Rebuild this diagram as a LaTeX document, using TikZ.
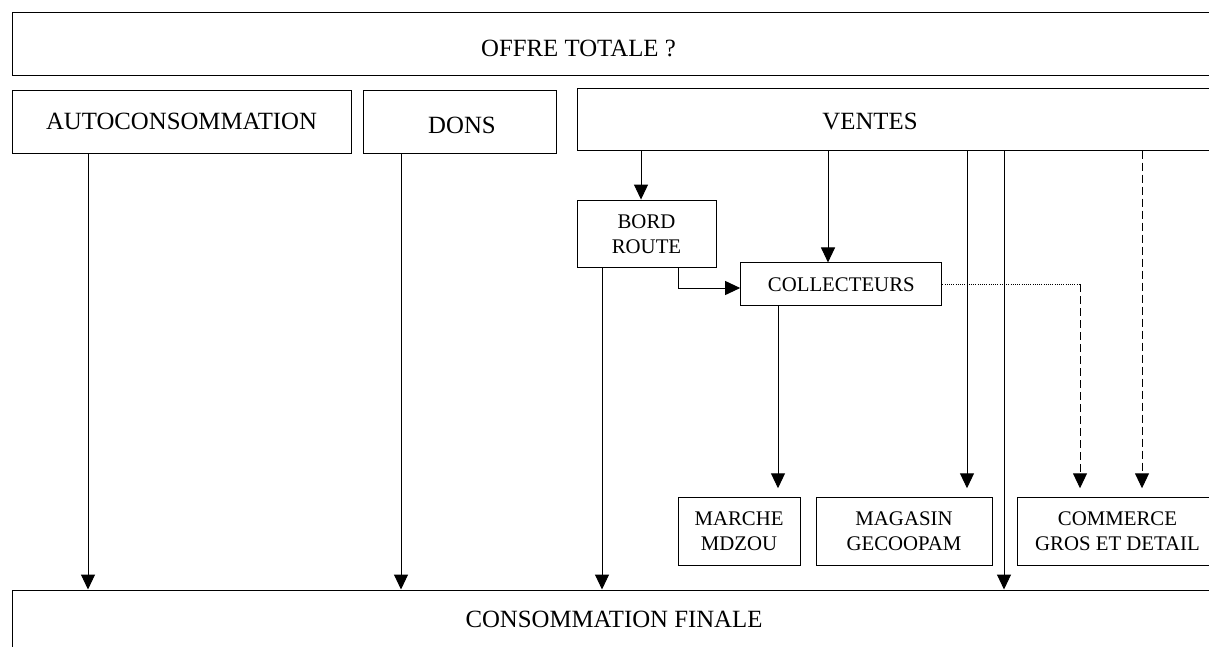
\documentclass[tikz,border=0pt]{standalone}
\usepackage{fontspec}
\setmainfont{Liberation Serif}
\usetikzlibrary{arrows.meta}
\newcommand\bigtxt{\fontsize{24.8}{29.8}\selectfont}
\newcommand\smalltxt{\fontsize{20.8}{25}\selectfont}
\begin{document}
\begin{tikzpicture}[x=1pt,y=-1pt,line width=1pt,
  box/.style={draw,rectangle,inner sep=0pt,align=center},
  bigbox/.style={box,font=\bigtxt},
  smallbox/.style={box,font=\smalltxt},
  lbl/.style={anchor=base,inner sep=0pt,font=\bigtxt},
  arr/.style={-{Triangle[width=14pt,length=15pt]}},
  dashline/.style={dash pattern=on 8pt off 4pt},
  dotline/.style={line width=0.8pt,dash pattern=on 1pt off 1.2pt}]
\useasboundingbox (0,0) rectangle (1209,646);
\clip (0,0) rectangle (1209,646);

% top level
\node[bigbox,minimum width=1208pt,minimum height=63pt] (offre) at (616,43.5) {};
\node[lbl] (offreT) at (578.5,56) {OFFRE TOTALE ?};

% three uses of the supply
\node[bigbox,minimum width=339pt,minimum height=63pt] (auto) at (181.5,121.5) {AUTOCONSOMMATION};
\node[bigbox,minimum width=193pt,minimum height=63pt] (dons) at (459.5,121.5) {};
\node[lbl] (donsT) at (462,133) {DONS};
\node[bigbox,minimum width=643pt,minimum height=62pt] (ventes) at (898.5,119) {};
\node[lbl] (ventesT) at (870,129) {VENTES};

% sales channels
\node[smallbox,minimum width=139pt,minimum height=67.5pt] (bord) at (646.5,233.8) {BORD\\ROUTE};
\node[smallbox,minimum width=201.3pt,minimum height=42.7pt] (coll) at (841.3,284.3) {COLLECTEURS};
\node[smallbox,minimum width=122pt,minimum height=67.3pt] (marche) at (739,531.4) {MARCHE\\MDZOU};
\node[smallbox,minimum width=176pt,minimum height=67.3pt] (magasin) at (904,531.4) {MAGASIN\\GECOOPAM};
\node[smallbox,minimum width=201pt,minimum height=67.3pt] (commerce) at (1117.5,531.4) {COMMERCE\\GROS ET DETAIL};

% final use
\node[bigbox,minimum width=1204pt,minimum height=58pt] (conso) at (614,619) {CONSOMMATION FINALE};

% flows to final consumption
\draw[arr] (88,0 |- auto.south) -- (88,0 |- conso.north);
\draw[arr] (401,0 |- dons.south) -- (401,0 |- conso.north);
\draw[arr] (602,0 |- bord.south) -- (602,0 |- conso.north);
\draw[arr] (1004,0 |- ventes.south) -- (1004,0 |- conso.north);

% flows from sales
\draw[arr] (641,0 |- ventes.south) -- (641,0 |- bord.north);
\draw[arr] (828,0 |- ventes.south) -- (828,0 |- coll.north);
\draw[arr,shorten >=9pt] (967,0 |- ventes.south) -- (967,0 |- magasin.north);
\draw[arr,dashline,shorten >=9pt] (1142,0 |- ventes.south) -- (1142,0 |- commerce.north);

% road-side sellers to collectors
\draw[arr] (678,0 |- bord.south) |- ([yshift=-3.7pt]coll.west);

% collectors to markets
\draw[arr,shorten >=9pt] (778,0 |- coll.south) -- (778,0 |- marche.north);
\coordinate (turn) at (1080,0 |- coll.east);
\draw[dotline] (coll.east) -- (turn);
\draw[arr,dashline,shorten >=9pt] (turn) -- (turn |- commerce.north);
\end{tikzpicture}
\end{document}
